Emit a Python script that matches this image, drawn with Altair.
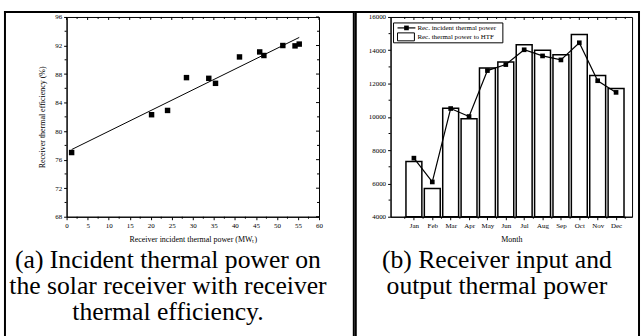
import json
import altair as alt
import pandas as pd

FONT = "Liberation Serif"

# ---------------- data: panel (a) ----------------
power_mw = [1.2, 20.2, 24.0, 28.5, 33.8, 35.4, 41.1, 45.9, 46.9, 51.4, 54.3, 55.3]
efficiency = [77.0, 82.3, 82.9, 87.5, 87.4, 86.7, 90.4, 91.1, 90.6, 92.0, 91.95, 92.2]
pow_major = [0, 5, 10, 15, 20, 25, 30, 35, 40, 45, 50, 55, 60]
pow_minor = [2.5, 7.5, 12.5, 17.5, 22.5, 27.5, 32.5, 37.5, 42.5, 47.5, 52.5, 57.5]
eff_major = [68, 72, 76, 80, 84, 88, 92, 96]
eff_minor = [70, 74, 78, 82, 86, 90, 94]

# ---------------- data: panel (b) ----------------
months = ["Jan", "Feb", "Mar", "Apr", "May", "Jun", "Jul", "Aug", "Sep", "Oct", "Nov", "Dec"]
month_idx = [1, 2, 3, 4, 5, 6, 7, 8, 9, 10, 11, 12]
incident = [7520, 6090, 10500, 10020, 12780, 13140, 14030, 13660, 13420, 14450, 12170, 11470]
to_htf = [7320, 5690, 10520, 9880, 12940, 13300, 14330, 14000, 13730, 14950, 12480, 11710]
mw_major = [4000, 6000, 8000, 10000, 12000, 14000, 16000]
mw_minor = [5000, 7000, 9000, 11000, 13000, 15000]
month_half = [0.5, 1.5, 2.5, 3.5, 4.5, 5.5, 6.5, 7.5, 8.5, 9.5, 10.5, 11.5, 12.5]

caption_a = ["(a) Incident thermal power on", "the solar receiver with receiver", "thermal efficiency."]
caption_b = ["(b) Receiver input and", "output thermal power"]

one = pd.DataFrame({"k": [0]})

AX = dict(labelFont=FONT, labelFontSize=7, labelColor="black", labelPadding=2,
          labelOverlap=False, labelFlush=False, labelBound=False,
          titleFont=FONT, titleFontSize=8, titleFontWeight="normal", titleColor="black",
          tickColor="black", tickSize=3, domainColor="black", grid=False)

# ================= panel (a) =================
W1, H1 = 254, 201
df_a = pd.DataFrame({"power": power_mw, "eff": efficiency})
xs1 = alt.Scale(domain=[0, 60], nice=False, zero=False)
ys1 = alt.Scale(domain=[68, 96], nice=False, zero=False)
ax_x1 = alt.Axis(values=pow_major, title="Receiver incident thermal power (MWₜ)",
                 titlePadding=7, **AX)
ax_y1 = alt.Axis(values=eff_major, title="Receiver thermal efficiency (%)",
                 titlePadding=8, **AX)

pts_a = alt.Chart(df_a).mark_square(size=30, color="black", opacity=1).encode(
    x=alt.X("power:Q", scale=xs1, axis=ax_x1),
    y=alt.Y("eff:Q", scale=ys1, axis=ax_y1),
)
fit_a = alt.Chart(df_a).transform_regression("power", "eff").mark_line(
    color="black", strokeWidth=1).encode(
    x=alt.X("power:Q", scale=xs1, axis=ax_x1),
    y=alt.Y("eff:Q", scale=ys1, axis=ax_y1),
)


def vticks(vals, field, scale, axis, y0, y1):
    return alt.Chart(pd.DataFrame({field: vals})).mark_rule(color="black", strokeWidth=1).encode(
        x=alt.X(field + ":Q", scale=scale, axis=axis), y=alt.value(y0), y2=alt.value(y1))


def hticks(vals, field, scale, axis, x0, x1):
    return alt.Chart(pd.DataFrame({field: vals})).mark_rule(color="black", strokeWidth=1).encode(
        y=alt.Y(field + ":Q", scale=scale, axis=axis), x=alt.value(x0), x2=alt.value(x1))


def border(x0, x1, y0, y1):
    return alt.Chart(one).mark_rule(color="black", strokeWidth=2, strokeCap="square").encode(
        x=alt.value(x0), x2=alt.value(x1), y=alt.value(y0), y2=alt.value(y1))


def caption(lines, x, y):
    return alt.Chart(one).mark_text(font=FONT, fontSize=25.8, lineHeight=26, align="center",
                                    baseline="top", color="black").encode(
        x=alt.value(x), y=alt.value(y), text=alt.value(lines))


left = alt.layer(
    pts_a,
    fit_a,
    vticks(pow_minor, "power", xs1, ax_x1, H1, H1 + 2),
    vticks(pow_major, "power", xs1, ax_x1, 0, 3),
    vticks(pow_minor, "power", xs1, ax_x1, 0, 2),
    hticks(eff_minor, "eff", ys1, ax_y1, 0, -2),
    hticks(eff_major, "eff", ys1, ax_y1, W1, W1 - 3),
    hticks(eff_minor, "eff", ys1, ax_y1, W1, W1 - 2),
    border(-62, 289, -5, -5),
    border(-62, -62, -5, 330),
    border(289, 289, -5, 330),
    caption(caption_a, 102, 233),
).properties(width=W1, height=H1)

# ================= panel (b) =================
W2, H2 = 243, 201
df_b = pd.DataFrame({"m": month_idx, "month": months, "incident": incident, "htf": to_htf})
xs2 = alt.Scale(domain=[0, 12.6], nice=False, zero=False)
ys2 = alt.Scale(domain=[4000, 16000], nice=False, zero=False)
label_expr = json.dumps(months) + "[datum.value - 1]"
ax_x2 = alt.Axis(values=month_idx, labelExpr=label_expr, title="Month", titlePadding=7, **AX)
ax_y2 = alt.Axis(values=mw_major, format="d", title="", **AX)

bars = alt.Chart(df_b).mark_bar(size=16, fill="white", stroke="black", strokeWidth=1.5).encode(
    x=alt.X("m:Q", scale=xs2, axis=ax_x2),
    y=alt.Y("htf:Q", scale=ys2, axis=ax_y2),
    y2=alt.datum(4000),
)
line_b = alt.Chart(df_b).mark_line(
    color="black", strokeWidth=1.2,
    point=alt.OverlayMarkDef(shape="square", size=22, filled=True, color="black", opacity=1),
).encode(
    x=alt.X("m:Q", scale=xs2, axis=ax_x2),
    y=alt.Y("htf:Q", scale=ys2, axis=ax_y2),
).transform_calculate(htf="datum.incident")

leg_box = alt.Chart(one).mark_rect(fill="white", stroke="black", strokeWidth=1).encode(
    x=alt.value(3), x2=alt.value(113), y=alt.value(6), y2=alt.value(26))
leg_line = alt.Chart(one).mark_rule(color="black", strokeWidth=1.2).encode(
    x=alt.value(7), x2=alt.value(25), y=alt.value(11))
leg_pt = alt.Chart(one).mark_square(size=22, color="black", opacity=1).encode(
    x=alt.value(16), y=alt.value(11))
leg_bar = alt.Chart(one).mark_rect(fill="white", stroke="black", strokeWidth=1).encode(
    x=alt.value(7), x2=alt.value(24), y=alt.value(16), y2=alt.value(24))
leg_t1 = alt.Chart(one).mark_text(font=FONT, fontSize=7, align="left", baseline="middle").encode(
    x=alt.value(27), y=alt.value(11), text=alt.value("Rec. incident thermal power"))
leg_t2 = alt.Chart(one).mark_text(font=FONT, fontSize=7, align="left", baseline="middle").encode(
    x=alt.value(27), y=alt.value(20), text=alt.value("Rec. thermal power to HTF"))

right = alt.layer(
    bars,
    line_b,
    vticks(month_half, "m", xs2, ax_x2, H2, H2 + 2),
    vticks(month_idx, "m", xs2, ax_x2, 0, 3),
    vticks(month_half, "m", xs2, ax_x2, 0, 2),
    hticks(mw_minor, "htf", ys2, ax_y2, 0, -2),
    leg_box, leg_line, leg_pt, leg_bar, leg_t1, leg_t2,
    border(-35, 250, -5, -5),
    border(-35, -35, -5, 330),
    border(250, 250, -5, 330),
    caption(caption_b, 107, 233),
).properties(width=W2, height=H2)

chart = alt.hconcat(left, right, spacing=-2).properties(
    padding={"left": 3, "top": 9, "right": 0, "bottom": 0},
    background="white",
).configure_view(stroke="black", strokeWidth=1)

chart.save("out.html", embed_options={"renderer": "svg", "actions": False})
